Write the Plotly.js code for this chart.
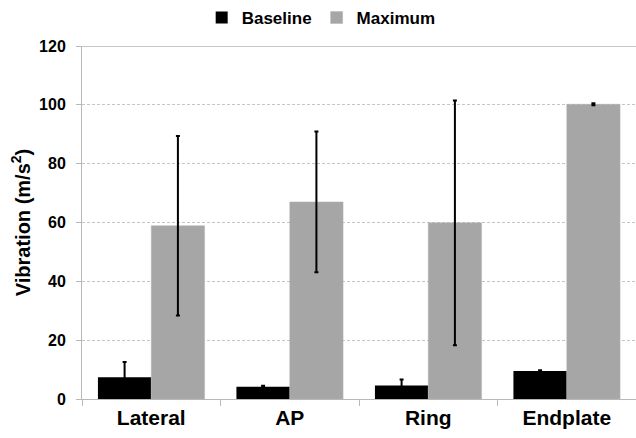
<!DOCTYPE html>
<html>
<head>
<meta charset="utf-8">
<script src="https://cdn.plot.ly/plotly-3.0.1.min.js"></script>
<style>html,body{margin:0;padding:0;background:#fff;}#chart{width:636px;height:438px;}</style>
</head>
<body>
<div id="chart"></div>
<script>
const categories = ["Lateral", "AP", "Ring", "Endplate"];
const baselineValues = [7.4, 4.2, 4.6, 9.5];
const baselineErrors = [5.2, 0.3, 2.0, 0.25];
const maximumValues = [58.9, 67.0, 59.9, 100.2];
const maximumErrors = [30.5, 23.9, 41.6, 0.3];
const seriesNames = ["Baseline", "Maximum"];
const yTicks = [0, 20, 40, 60, 80, 100, 120];

const FONT = "Liberation Sans, Arial, sans-serif";

const traces = [
  {
    type: "bar", name: seriesNames[0], x: categories, y: baselineValues,
    marker: {color: "#000000"},
    error_y: {type: "data", array: baselineErrors, visible: true, color: "#000000", thickness: 2, width: 2}
  },
  {
    type: "bar", name: seriesNames[1], x: categories, y: maximumValues,
    marker: {color: "#a6a6a6", line: {color: "#b4b4b4", width: 0.5}},
    error_y: {type: "data", array: maximumErrors, visible: true, color: "#000000", thickness: 2, width: 2}
  }
];

const layout = {
  width: 636, height: 438,
  margin: {l: 82, r: 0, t: 46, b: 39},
  paper_bgcolor: "#ffffff", plot_bgcolor: "#ffffff",
  font: {family: FONT, color: "#000000"},
  barmode: "group", bargap: 0.23, bargroupgap: 0,
  showlegend: true,
  legend: {
    orientation: "h", xref: "container", yref: "container",
    x: 0.505, xanchor: "center", y: 1.0, yanchor: "top",
    font: {family: FONT, size: 17, weight: "bold", color: "#000"},
    itemwidth: 30, tracegroupgap: 0, bgcolor: "rgba(0,0,0,0)"
  },
  xaxis: {
    type: "category", tickson: "boundaries", ticks: "outside", ticklen: 6,
    tickcolor: "#b8b8b8", tickwidth: 1,
    showline: true, linecolor: "#b8b8b8", linewidth: 1,
    showgrid: false, zeroline: false,
    tickfont: {family: FONT, size: 21, weight: "bold", color: "#000"}
  },
  yaxis: {
    range: [0, 120], tickvals: yTicks, ticktext: yTicks.map(String),
    ticks: "outside", ticklen: 5, tickcolor: "#b8b8b8", tickwidth: 1,
    ticklabelstandoff: 7,
    showline: true, linecolor: "#b8b8b8", linewidth: 1,
    showgrid: true, gridcolor: "#c4c4c4", griddash: "3px,2px", gridwidth: 1,
    zeroline: false,
    tickfont: {family: FONT, size: 16, weight: "bold", color: "#000"},
    title: {text: "Vibration (m/s<sup>2</sup>)", standoff: 3,
            font: {family: FONT, size: 20, weight: "bold", color: "#000"}}
  },
  shapes: [
    {type: "line", xref: "paper", yref: "y", x0: 0, x1: 1, y0: 120, y1: 120,
     line: {color: "#c8c8c8", width: 2}}
  ]
};

Plotly.newPlot("chart", traces, layout, {displayModeBar: false, staticPlot: true});
</script>
</body>
</html>
